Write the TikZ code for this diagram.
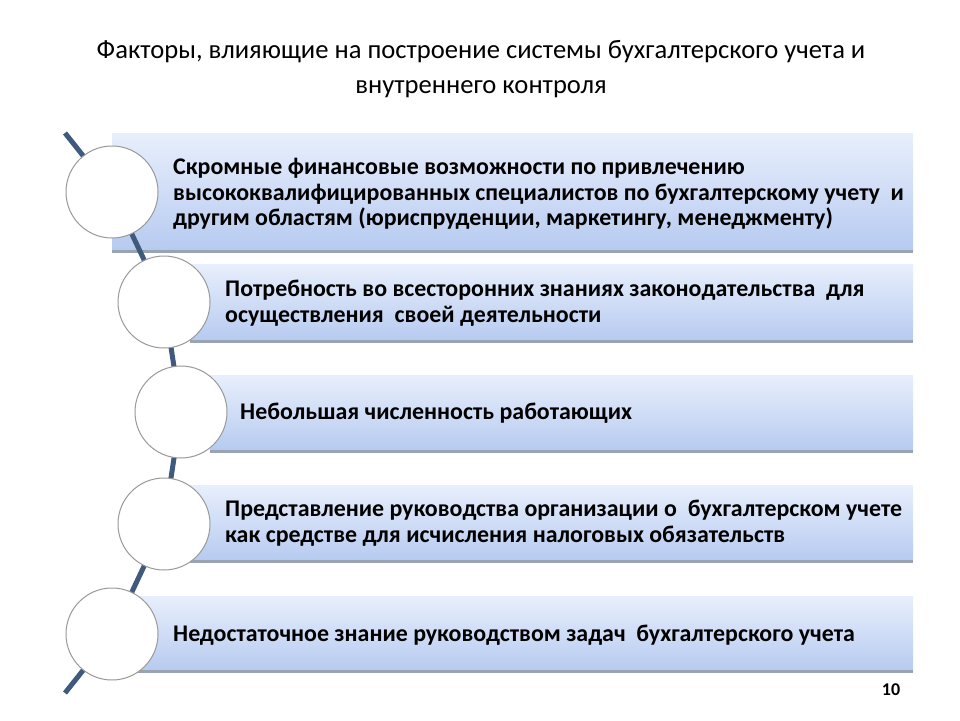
\documentclass[tikz,border=0pt]{standalone}
\usepackage{fontspec}
\setmainfont{Carlito}
\usepackage{tikz}
\usetikzlibrary{positioning}
\definecolor{boxtop}{HTML}{E8EFFC}
\definecolor{boxbot}{HTML}{B6CAF0}
\definecolor{spinecol}{HTML}{3F5A7C}
\definecolor{rimcol}{HTML}{9AA3B2}

\begin{document}
\begin{tikzpicture}[
  x=1pt, y=-1pt,
  factor/.style={rectangle, anchor=north west, inner sep=0pt,
    top color=boxtop, bottom color=boxbot, draw=none},
  rim/.style={draw=rimcol, line width=2.5pt},
  spine/.style={draw=spinecol, line width=5pt},
  ring/.style={circle, draw=gray!80, fill=white, line width=1pt,
    minimum size=92pt, inner sep=0pt},
  txt/.style={anchor=west, align=left, inner sep=0pt,
    font=\fontsize{23.9}{25.5}\selectfont\bfseries}
]
\useasboundingbox (0,0) rectangle (960,720);

% title
\node[align=center, font=\fontsize{26.6}{35}\selectfont] (title) at (481,69)
  {Факторы, влияющие на построение системы бухгалтерского учета и\\
   внутреннего контроля};

% boxes
\node[factor, minimum width=801pt, minimum height=118pt] (b1) at (112,133) {};
\node[factor, minimum width=723pt, minimum height=77pt] (b2) at (190,264) {};
\node[factor, minimum width=703pt, minimum height=76pt] (b3) at (210,375) {};
\node[factor, minimum width=723pt, minimum height=76pt] (b4) at (190,485) {};
\node[factor, minimum width=801pt, minimum height=75pt] (b5) at (112,596) {};
\foreach \b in {b1,b2,b3,b4,b5}
  \draw[rim] (\b.south west) -- (\b.south east);

% texts
\node[txt] (t1) at (173,194) {Скромные финансовые возможности по привлечению\\
  высококвалифицированных специалистов по бухгалтерскому учету\ \ и\\
  другим областям (юриспруденции, маркетингу, менеджменту)};
\node[txt] (t2) at (225,303) {Потребность во всесторонних знаниях законодательства\ \ для\\
  осуществления\ \ своей деятельности};
\node[txt] (t3) at (240,413) {Небольшая численность работающих};
\node[txt] (t4) at (225,523) {Представление руководства организации о\ \ бухгалтерском учете\\
  как средстве для исчисления налоговых обязательств};
\node[txt] (t5) at (173,635) {Недостаточное знание руководством задач\ \ бухгалтерского учета};

% spine and circles
\coordinate (top) at (65,133);
\coordinate (bot) at (65,693);
\coordinate (p1) at (112,192);
\coordinate (p2) at (164,302);
\coordinate (p3) at (181,412);
\coordinate (p4) at (164,524);
\coordinate (p5) at (112,634);
\draw[spine] (top) -- (p1) -- (p2) -- (p3) -- (p4) -- (p5) -- (bot);
\foreach \i in {1,...,5}
  \node[ring] (c\i) at (p\i) {};

\node[font=\fontsize{18}{18}\selectfont\bfseries] (page) at (891,690) {10};
\end{tikzpicture}
\end{document}
